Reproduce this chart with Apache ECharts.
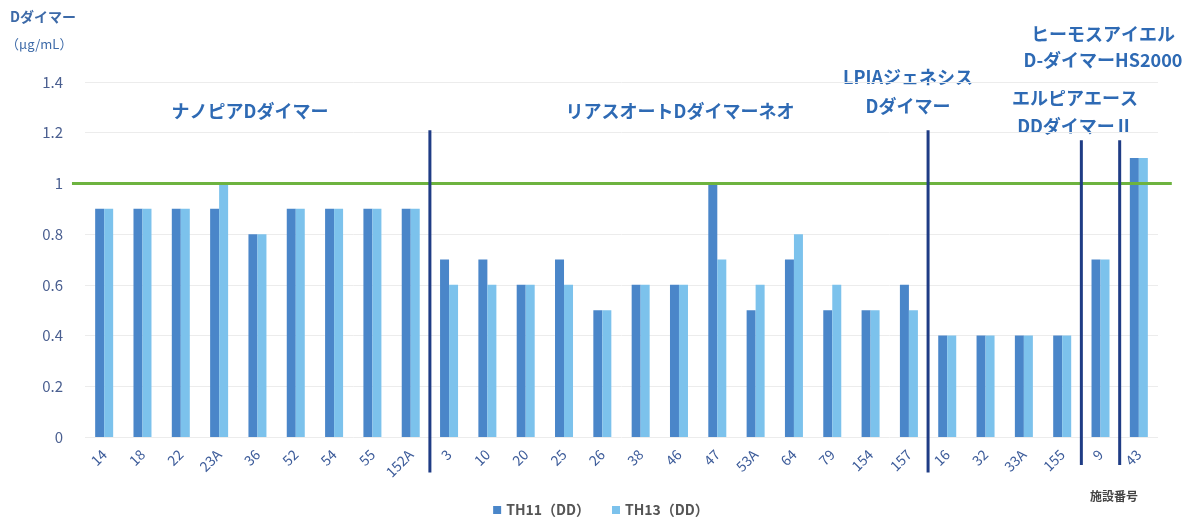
<!DOCTYPE html>
<html>
<head>
<meta charset="utf-8">
<script src="https://cdn.jsdelivr.net/npm/echarts@6/dist/echarts.min.js"></script>
<style>
html,body{margin:0;padding:0;background:#fff;}
#chart{width:1202px;height:524px;}
</style>
</head>
<body>
<div id="chart"></div>
<script>
// 施設番号
const categories = ['14','18','22','23A','36','52','54','55','152A','3','10','20','25','26','38','46','47','53A','64','79','154','157','16','32','33A','155','9','43'];
// D-dimer values by control material (μg/mL)
const th11 = [0.9,0.9,0.9,0.9,0.8,0.9,0.9,0.9,0.9, 0.7,0.7,0.6,0.7,0.5,0.6,0.6,1.0,0.5,0.7,0.5,0.5,0.6, 0.4,0.4,0.4,0.4, 0.7, 1.1];
const th13 = [0.9,0.9,0.9,1.0,0.8,0.9,0.9,0.9,0.9, 0.6,0.6,0.6,0.6,0.5,0.6,0.6,0.7,0.6,0.8,0.6,0.5,0.5, 0.4,0.4,0.4,0.4, 0.7, 1.1];
const seriesNames = ['TH11（DD）','TH13（DD）'];
const yTicks = [0,0.2,0.4,0.6,0.8,1,1.2,1.4];
const cutoff = 1;
// reagent groups: category slot boundary of each separator, with its top and bottom value
const separators = [[9,1.21,-0.14],[22,1.21,-0.14],[26,1.17,-0.11],[27,1.17,-0.11]];
const groupTitles = ['ナノピアDダイマー','リアスオートDダイマーネオ','LPIAジェネシス\nDダイマー','エルピアエース\nDDダイマーⅡ','ヒーモスアイエル\nD-ダイマーHS2000'];

const font = '"Noto Sans CJK JP","Noto Sans",sans-serif';
const chart = echarts.init(document.getElementById('chart'));
const titleColor = '#2e6ab4';

function groupText(text, x, y, lh){
  return {type:'text', x:x, y:y, style:{text:text, fill:titleColor, font:'bold 18px '+font,
    textAlign:'center', textVerticalAlign:'top', lineHeight:lh||27}};
}

chart.setOption({
  animation:false,
  textStyle:{fontFamily:font},
  grid:{left:85, right:44, top:82, bottom:87},
  legend:{
    bottom:2, left:'center', itemWidth:8, itemHeight:8, itemGap:22, icon:'rect',
    textStyle:{fontSize:14, fontWeight:'bold', color:'#555'},
    data:seriesNames
  },
  xAxis:[{
    type:'category', data:categories,
    axisLine:{show:false}, axisTick:{show:false},
    axisLabel:{rotate:45, color:'#3d5c9a', fontSize:14, margin:15, interval:0}
  },{
    type:'value', min:0, max:categories.length, show:false
  }],
  yAxis:{
    type:'value', min:0, max:1.4, interval:0.2,
    axisLabel:{color:'#4a5f90', fontSize:15, margin:22, formatter:v=>{
      const t = yTicks.find(k=>Math.abs(k-v)<1e-9); return t===undefined?'':String(t);}},
    splitLine:{lineStyle:{color:'#ececec', width:1}},
    axisLine:{show:false}, axisTick:{show:false}
  },
  graphic:[
    {type:'text', x:10, y:10, style:{text:'Dダイマー', fill:'#3d6aa8', font:'bold 14px '+font}},
    {type:'text', x:6, y:38, style:{text:'（μg/mL）', fill:'#3d6aa8', font:'13px '+font}},
    groupText(groupTitles[0], 250, 98),
    groupText(groupTitles[1], 680, 98),
    groupText(groupTitles[2], 908, 63, 29),
    groupText(groupTitles[3], 1075, 84, 28),
    groupText(groupTitles[4], 1103, 21, 26),
    {type:'text', x:1090, y:490, style:{text:'施設番号', fill:'#444', font:'bold 12px '+font}}
  ],
  series:[
    {name:seriesNames[0], type:'bar', data:th11, barWidth:9, barGap:'0%', itemStyle:{color:'#4a86c9'}, z:2},
    {name:seriesNames[1], type:'bar', data:th13, barWidth:9, barGap:'0%', itemStyle:{color:'#7cc2ec'}, z:2},
    {
      // reference line at the cutoff value
      type:'custom', xAxisIndex:1, clip:false, z:5, silent:true,
      data:[[-0.34, 28.36, cutoff]],
      renderItem:(params, api)=>{
        const a = api.coord([api.value(0), api.value(2)]);
        const b = api.coord([api.value(1), api.value(2)]);
        return {type:'line', shape:{x1:a[0], y1:a[1], x2:b[0], y2:b[1]}, style:{stroke:'#6db33f', lineWidth:3}};
      }
    },
    {
      // separators between reagent groups
      type:'custom', xAxisIndex:1, clip:false, z:6, silent:true,
      data:separators,
      renderItem:(params, api)=>{
        const a = api.coord([api.value(0), api.value(1)]);
        const b = api.coord([api.value(0), api.value(2)]);
        return {type:'line', shape:{x1:a[0], y1:a[1], x2:b[0], y2:b[1]}, style:{stroke:'#1f3c85', lineWidth:3}};
      }
    }
  ]
});
</script>
</body>
</html>
